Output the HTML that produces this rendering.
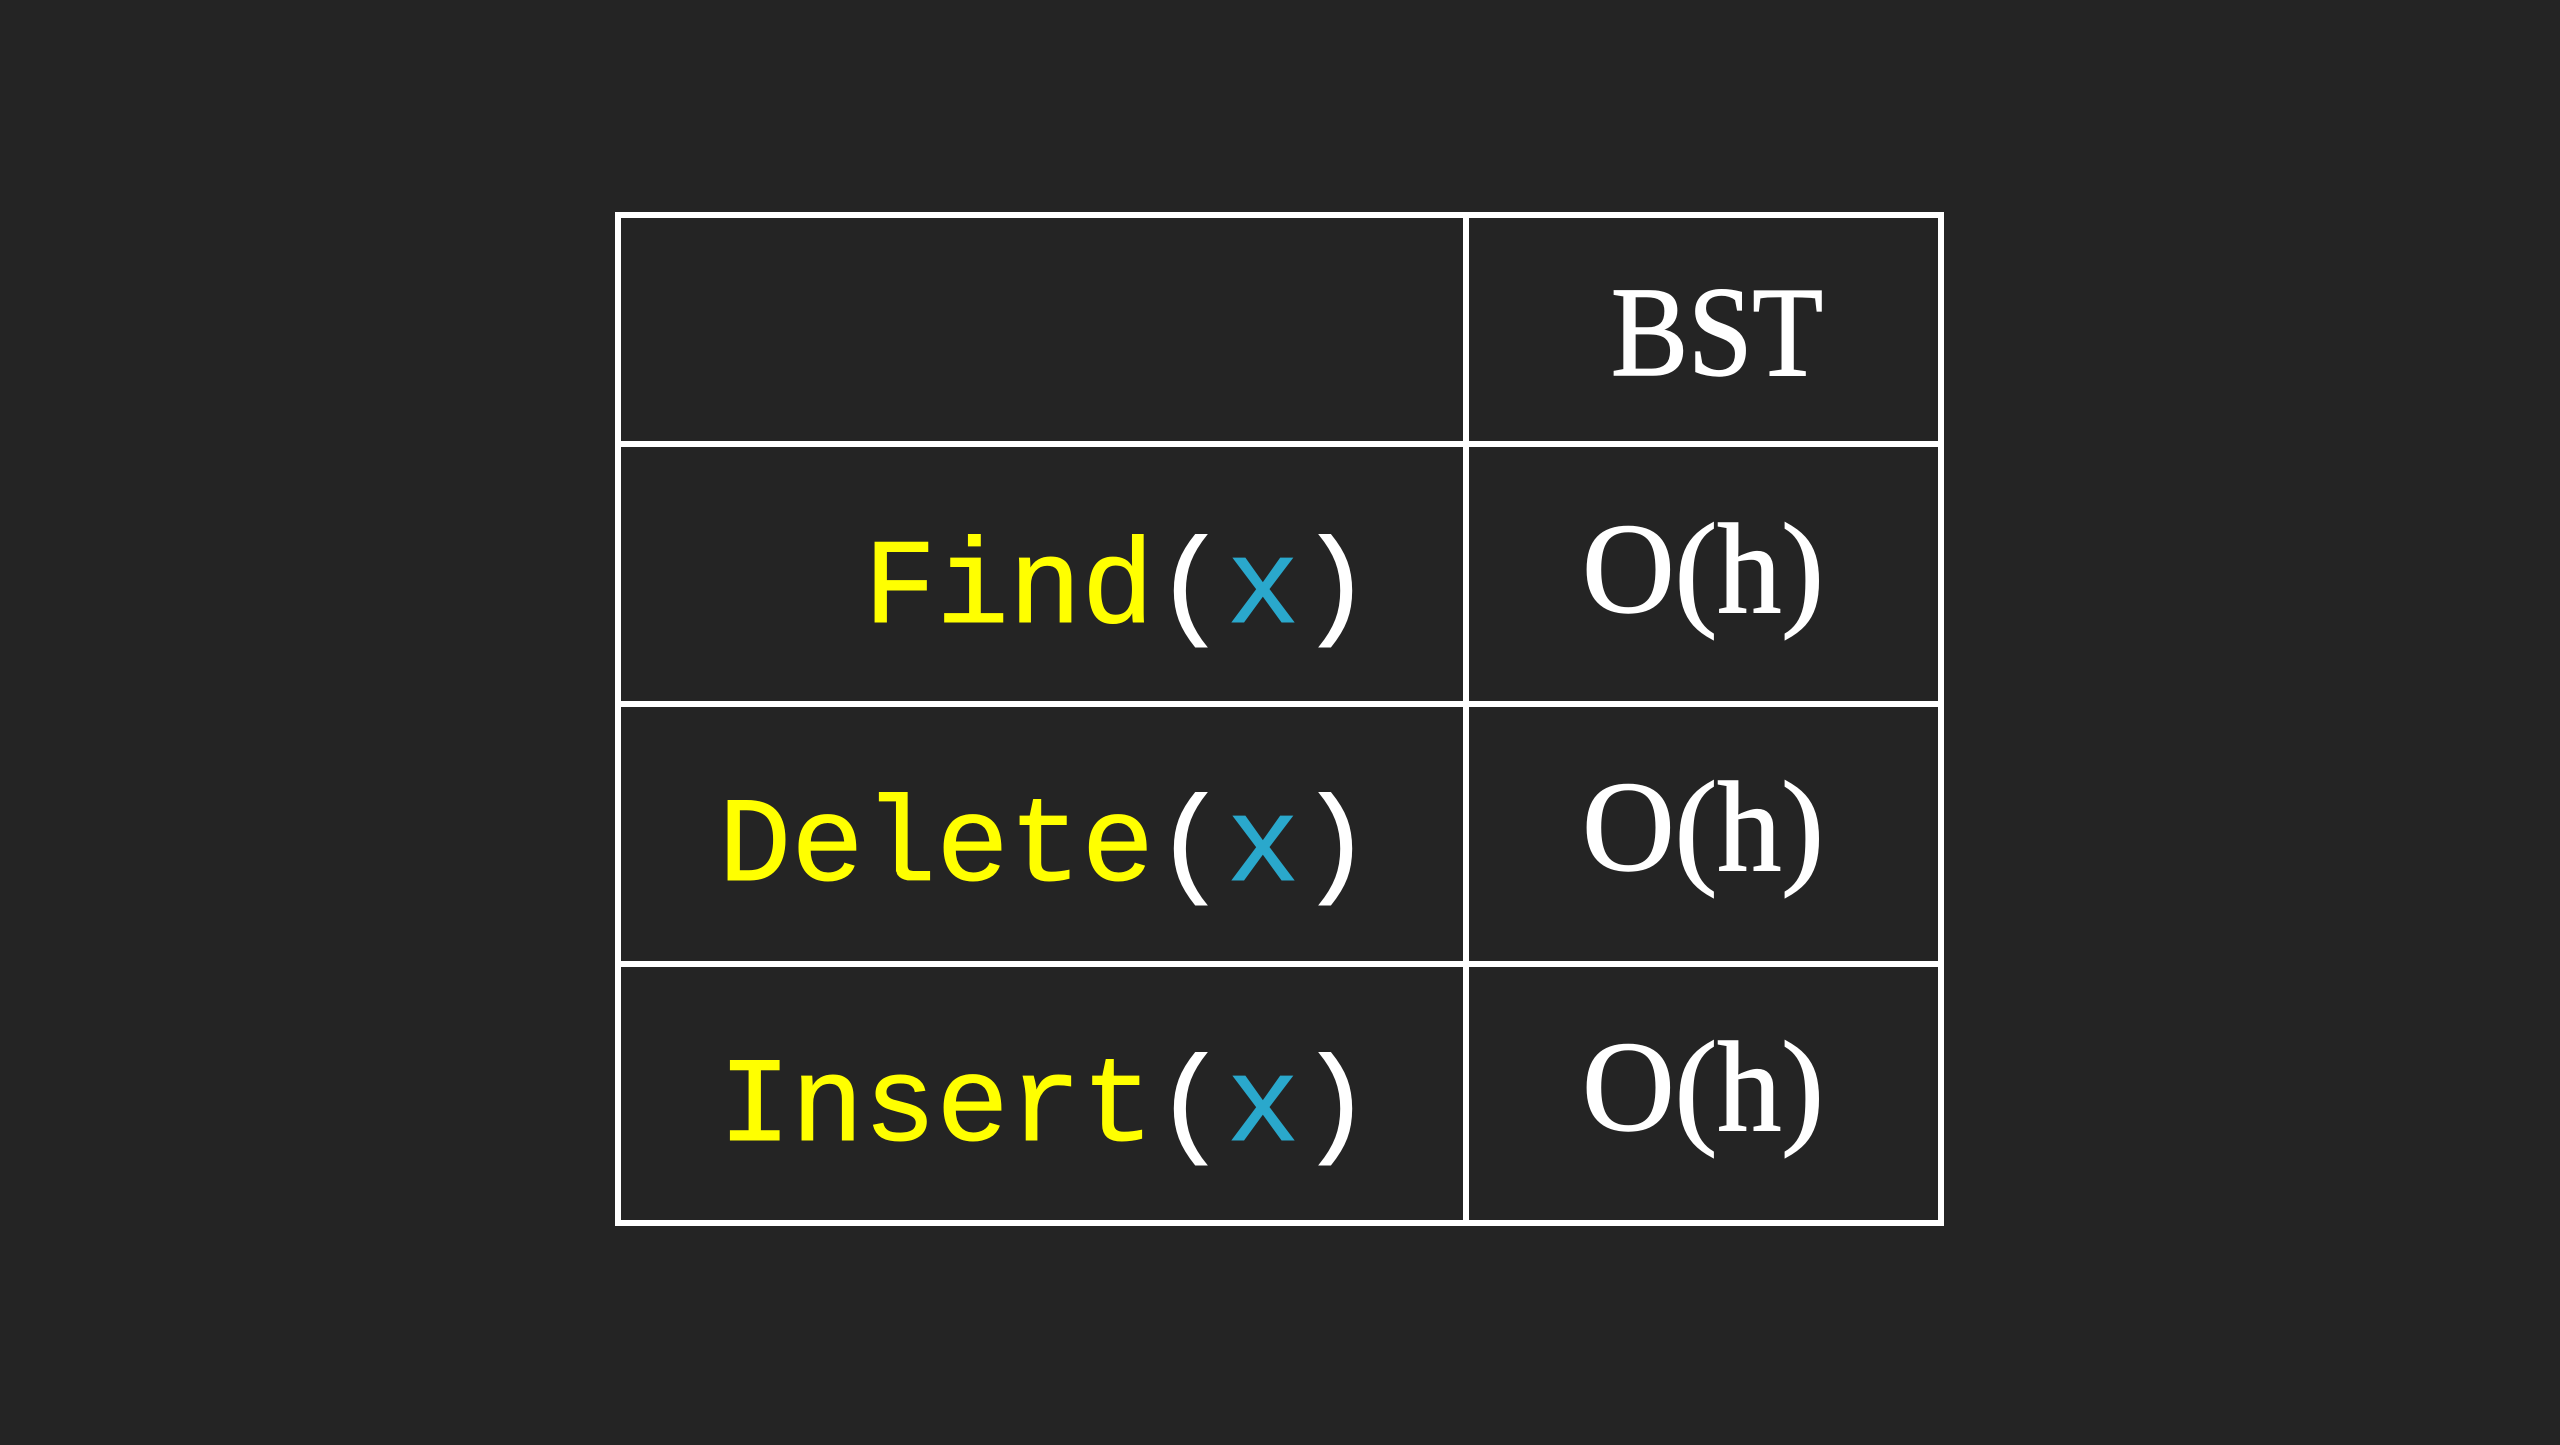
<!DOCTYPE html>
<html><head><meta charset="utf-8"><style>
html,body{margin:0;padding:0;background:#242424;}
</style></head><body>
<svg width="2560" height="1440" viewBox="0 0 2560 1440" xmlns="http://www.w3.org/2000/svg">
<rect width="2560" height="1440" fill="#242424"/>
<g stroke="#ffffff" stroke-width="6" fill="none">
<rect x="618" y="215" width="1323" height="1008"/>
<line x1="1466" y1="215" x2="1466" y2="1223"/>
<line x1="618" y1="444" x2="1941" y2="444"/>
<line x1="618" y1="704" x2="1941" y2="704"/>
<line x1="618" y1="964" x2="1941" y2="964"/>
</g>
<g font-family="Liberation Mono, monospace" font-size="121" text-anchor="end" stroke-width="1">
<text x="1372" y="622" fill="#ffff00" stroke="#ffff00">Find<tspan fill="#ffffff" stroke="#ffffff">(</tspan><tspan fill="#2aa8cc" stroke="#2aa8cc">x</tspan><tspan fill="#ffffff" stroke="#ffffff">)</tspan></text>
<text x="1372" y="880" fill="#ffff00" stroke="#ffff00">Delete<tspan fill="#ffffff" stroke="#ffffff">(</tspan><tspan fill="#2aa8cc" stroke="#2aa8cc">x</tspan><tspan fill="#ffffff" stroke="#ffffff">)</tspan></text>
<text x="1372" y="1140" fill="#ffff00" stroke="#ffff00">Insert<tspan fill="#ffffff" stroke="#ffffff">(</tspan><tspan fill="#2aa8cc" stroke="#2aa8cc">x</tspan><tspan fill="#ffffff" stroke="#ffffff">)</tspan></text>
</g>
<g font-family="Liberation Serif, serif" font-size="128" fill="#ffffff" stroke="#ffffff" stroke-width="1.5" text-anchor="middle">
<text x="1717" y="375" textLength="212" lengthAdjust="spacingAndGlyphs">BST</text>
<text x="1703" y="612">O(h)</text>
<text x="1703" y="870">O(h)</text>
<text x="1703" y="1130">O(h)</text>
</g>
</svg>
</body></html>
